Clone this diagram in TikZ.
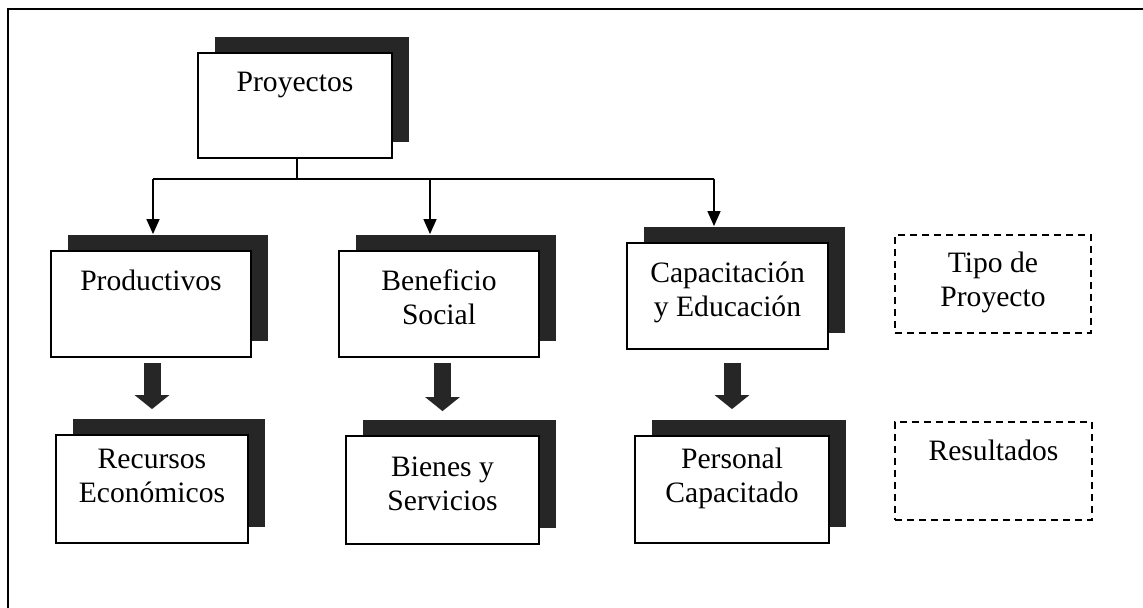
\documentclass[tikz,border=0pt]{standalone}
\usepackage{fontspec}
\setmainfont{Liberation Serif}
\usetikzlibrary{arrows.meta,shadows,positioning,calc}

\tikzset{
	caja/.style={draw=black,line width=0.9pt,fill=white,inner sep=0pt,
		drop shadow={shadow xshift=8.5pt,shadow yshift=8pt,fill=black!85,opacity=1}},
	guia/.style={draw=black,line width=0.9pt,dash pattern=on 3.5pt off 2.5pt,inner sep=0pt},
	texto/.style={align=center,inner sep=0pt,font=\fontsize{14.8}{17}\selectfont},
	linea/.style={line width=0.7pt},
	flecha/.style={line width=8.5pt,draw=black!85,-{Triangle[width=17pt,length=7pt]}}
}

\begin{document}
\begin{tikzpicture}[line cap=butt,line join=miter,>={Triangle[width=6.5pt,length=7.5pt]},x=0.5pt,y=-0.5pt]
		\useasboundingbox (0,0) rectangle (1143,608);
		\clip (0,0) rectangle (1143,608);
		\fill[white] (0,0) rectangle (1143,608);
		\draw [line width=1pt] (8,640)--(8,9)--(1180,9);
		% cajas con sombra
		\node [caja,minimum width=97pt,minimum height=52.5pt] (proy) at (295,105.5) {};
		\node [caja,minimum width=100pt,minimum height=53pt] (prod) at (151,304) {};
		\node [caja,minimum width=100pt,minimum height=53pt] (bene) at (439,304) {};
		\node [caja,minimum width=100.5pt,minimum height=53pt] (capa) at (727.5,296) {};
		\node [caja,minimum width=96pt,minimum height=54pt] (recu) at (152,489) {};
		\node [caja,minimum width=96.5pt,minimum height=54pt] (bien) at (442.5,490) {};
		\node [caja,minimum width=97pt,minimum height=53.5pt] (pers) at (732,489.5) {};
		% leyenda
		\node [guia,minimum width=98pt,minimum height=49pt] (tipo) at (993,284) {};
		\node [guia,minimum width=98.5pt,minimum height=49pt] (resu) at (993.5,471) {};
		% textos
		\node [texto,below=10pt of proy.north] (tproy) {Proyectos};
		\node [texto,below=9.5pt of prod.north] (tprod) {Productivos};
		\node [texto,below=9.5pt of bene.north] (tbene) {Beneficio\\Social};
		\node [texto,below=9.5pt of capa.north] (tcapa) {Capacitación\\y Educación};
		\node [texto,below=7.5pt of recu.north] (trecu) {Recursos\\Económicos};
		\node [texto,below=10.5pt of bien.north] (tbien) {Bienes y\\Servicios};
		\node [texto,below=6pt of pers.north] (tpers) {Personal\\Capacitado};
		\node [texto,below=8.5pt of tipo.north] (ttipo) {Tipo de\\Proyecto};
		\node [texto,below=9pt of resu.north] (tresu) {Resultados};
		% conectores
		\coordinate (rama) at ($(proy.south)+(2,20)$);
		\coordinate (pprod) at ($(prod.north)+(2,-16)$);
		\coordinate (pbene) at ($(bene.north)+(-9,-16)$);
		\coordinate (pcapa) at ($(capa.north)+(-13.5,-16)$);
		\draw [linea] ($(proy.south)+(2,0)$)--(rama);
		\draw [linea] (pprod |- rama)--(pcapa |- rama);
		\foreach \p in {pprod,pbene,pcapa}
			\draw [linea,->] (\p |- rama)--(\p);
		% flechas gruesas
		\draw [flecha] ($(recu.north |- prod.south)+(0,5)$)--($(recu.north)+(0,-25)$);
		\draw [flecha] ($(bien.north |- bene.south)+(0,5)$)--($(bien.north)+(0,-24)$);
		\draw [flecha] ($(pers.north |- capa.south)+(0,13)$)--($(pers.north)+(0,-26)$);
	\end{tikzpicture}
\end{document}
